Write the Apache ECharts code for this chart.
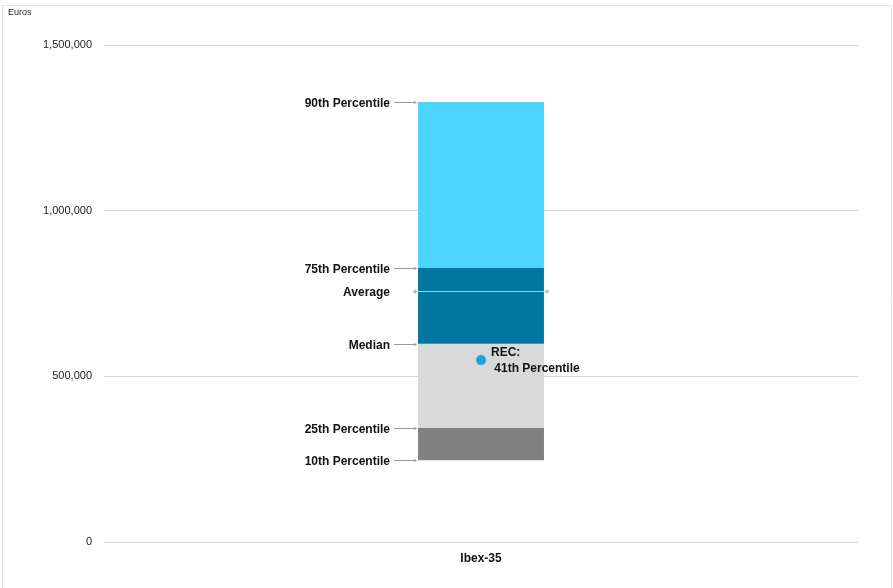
<!DOCTYPE html>
<html>
<head>
<meta charset="utf-8">
<script src="https://cdn.jsdelivr.net/npm/echarts@6/dist/echarts.min.js"></script>
<style>html,body{margin:0;padding:0;background:#fff}#c{width:893px;height:588px}</style>
</head>
<body>
<div id="c"></div>
<script>
const categories = ['Ibex-35'];
const pctNames = ['10th Percentile', '25th Percentile', 'Median', '75th Percentile', '90th Percentile'];
const pctValues = [247000, 344000, 598000, 827000, 1328000];
const averageName = 'Average';
const averageValue = 757000;
const recName = 'REC:\n 41th Percentile';
const recValue = 549000;
const yTicks = [0, 500000, 1000000, 1500000];

const chart = echarts.init(document.getElementById('c'));
const BAR_RATIO = 0.167;
const segColors = ['#808080', '#d9d9d9', '#0077a0', '#4dd4ff'];
const FONT_FAMILY = '"Liberation Sans", Arial, sans-serif';

const stackSeries = [{
  type: 'bar', stack: 's', barWidth: (BAR_RATIO * 100) + '%',
  itemStyle: { color: 'transparent' }, silent: true,
  data: [pctValues[0]]
}];
for (let i = 1; i < pctValues.length; i++) {
  stackSeries.push({
    type: 'bar', stack: 's', barWidth: (BAR_RATIO * 100) + '%',
    itemStyle: { color: segColors[i - 1] },
    data: [pctValues[i] - pctValues[i - 1]]
  });
}

function arrowHead(x, y, dir) {
  return { type: 'polygon', shape: { points: [[x, y], [x - 3 * dir, y - 1.6], [x - 3 * dir, y + 1.6]] }, style: { fill: '#999' } };
}

const labelData = pctNames.map((n, i) => [0, pctValues[i], n, 0]).concat([[0, averageValue, averageName, 1]]);

const labelSeries = {
  type: 'custom',
  data: labelData,
  z: 10,
  renderItem: function (params, api) {
    const p = api.coord([0, api.value(1)]);
    const half = api.size([1, 0])[0] * BAR_RATIO / 2;
    const name = labelData[params.dataIndex][2];
    const isAvg = labelData[params.dataIndex][3] === 1;
    const xl = p[0] - half;
    const y = Math.round(p[1]) + 0.5;
    const children = [{
      type: 'text',
      style: { text: name, x: xl - 28, y: p[1] + 1.5, align: 'right', verticalAlign: 'middle', font: 'bold 12px ' + FONT_FAMILY, fill: '#111' }
    }];
    if (isAvg) {
      const x1 = xl - 5, x2 = p[0] + half + 5;
      children.push({ type: 'line', shape: { x1: x1, y1: y, x2: x2, y2: y }, style: { stroke: '#bfbfbf', lineWidth: 1 } });
      children.push({ type: 'polygon', shape: { points: [[x1 - 1, y], [x1 + 3, y - 2.5], [x1 + 3, y + 2.5]] }, style: { fill: '#bfbfbf' } });
      children.push({ type: 'polygon', shape: { points: [[x2 + 1, y], [x2 - 3, y - 2.5], [x2 - 3, y + 2.5]] }, style: { fill: '#bfbfbf' } });
    } else {
      children.push({ type: 'line', shape: { x1: xl - 24, y1: y, x2: xl - 2, y2: y }, style: { stroke: '#999', lineWidth: 1 } });
      children.push(arrowHead(xl - 1, y, 1));
    }
    return { type: 'group', children: children };
  }
};

const recSeries = {
  type: 'scatter',
  data: [[0, recValue]],
  symbol: 'circle', symbolSize: 10, z: 12,
  itemStyle: { color: '#1aa3dc', opacity: 1 },
  label: {
    show: true, position: 'right', distance: 5,
    formatter: recName,
    fontWeight: 'bold', fontSize: 12, fontFamily: FONT_FAMILY,
    color: '#111', opacity: 1, textBorderWidth: 0, textBorderColor: 'transparent',
    lineHeight: 16, align: 'left', offset: [0, 1]
  }
};

chart.setOption({
  animation: false,
  backgroundColor: '#fff',
  grid: { left: 104, right: 35, top: 45, bottom: 46, containLabel: false },
  xAxis: {
    type: 'category', data: categories,
    axisLine: { show: true, lineStyle: { color: '#d9d9d9' } },
    axisTick: { show: false },
    axisLabel: { margin: 11, fontWeight: 'bold', fontSize: 12, color: '#111', fontFamily: FONT_FAMILY }
  },
  yAxis: {
    type: 'value', min: 0, max: 1500000, interval: 500000,
    axisLine: { show: false }, axisTick: { show: false },
    splitLine: { lineStyle: { color: '#d9d9d9' } },
    axisLabel: {
      margin: 12, fontSize: 11, color: '#222', fontFamily: FONT_FAMILY,
      formatter: v => yTicks.includes(v) ? v.toLocaleString('en-US') : ''
    }
  },
  graphic: [
    { type: 'rect', shape: { x: 2.5, y: 5.5, width: 889, height: 600 }, style: { fill: 'none', stroke: '#e3e3e3', lineWidth: 1 }, silent: true },
    { type: 'text', left: 8, top: 8, style: { text: 'Euros', font: '9px ' + FONT_FAMILY, fill: '#222' } }
  ],
  series: stackSeries.concat([labelSeries, recSeries])
});
</script>
</body>
</html>
